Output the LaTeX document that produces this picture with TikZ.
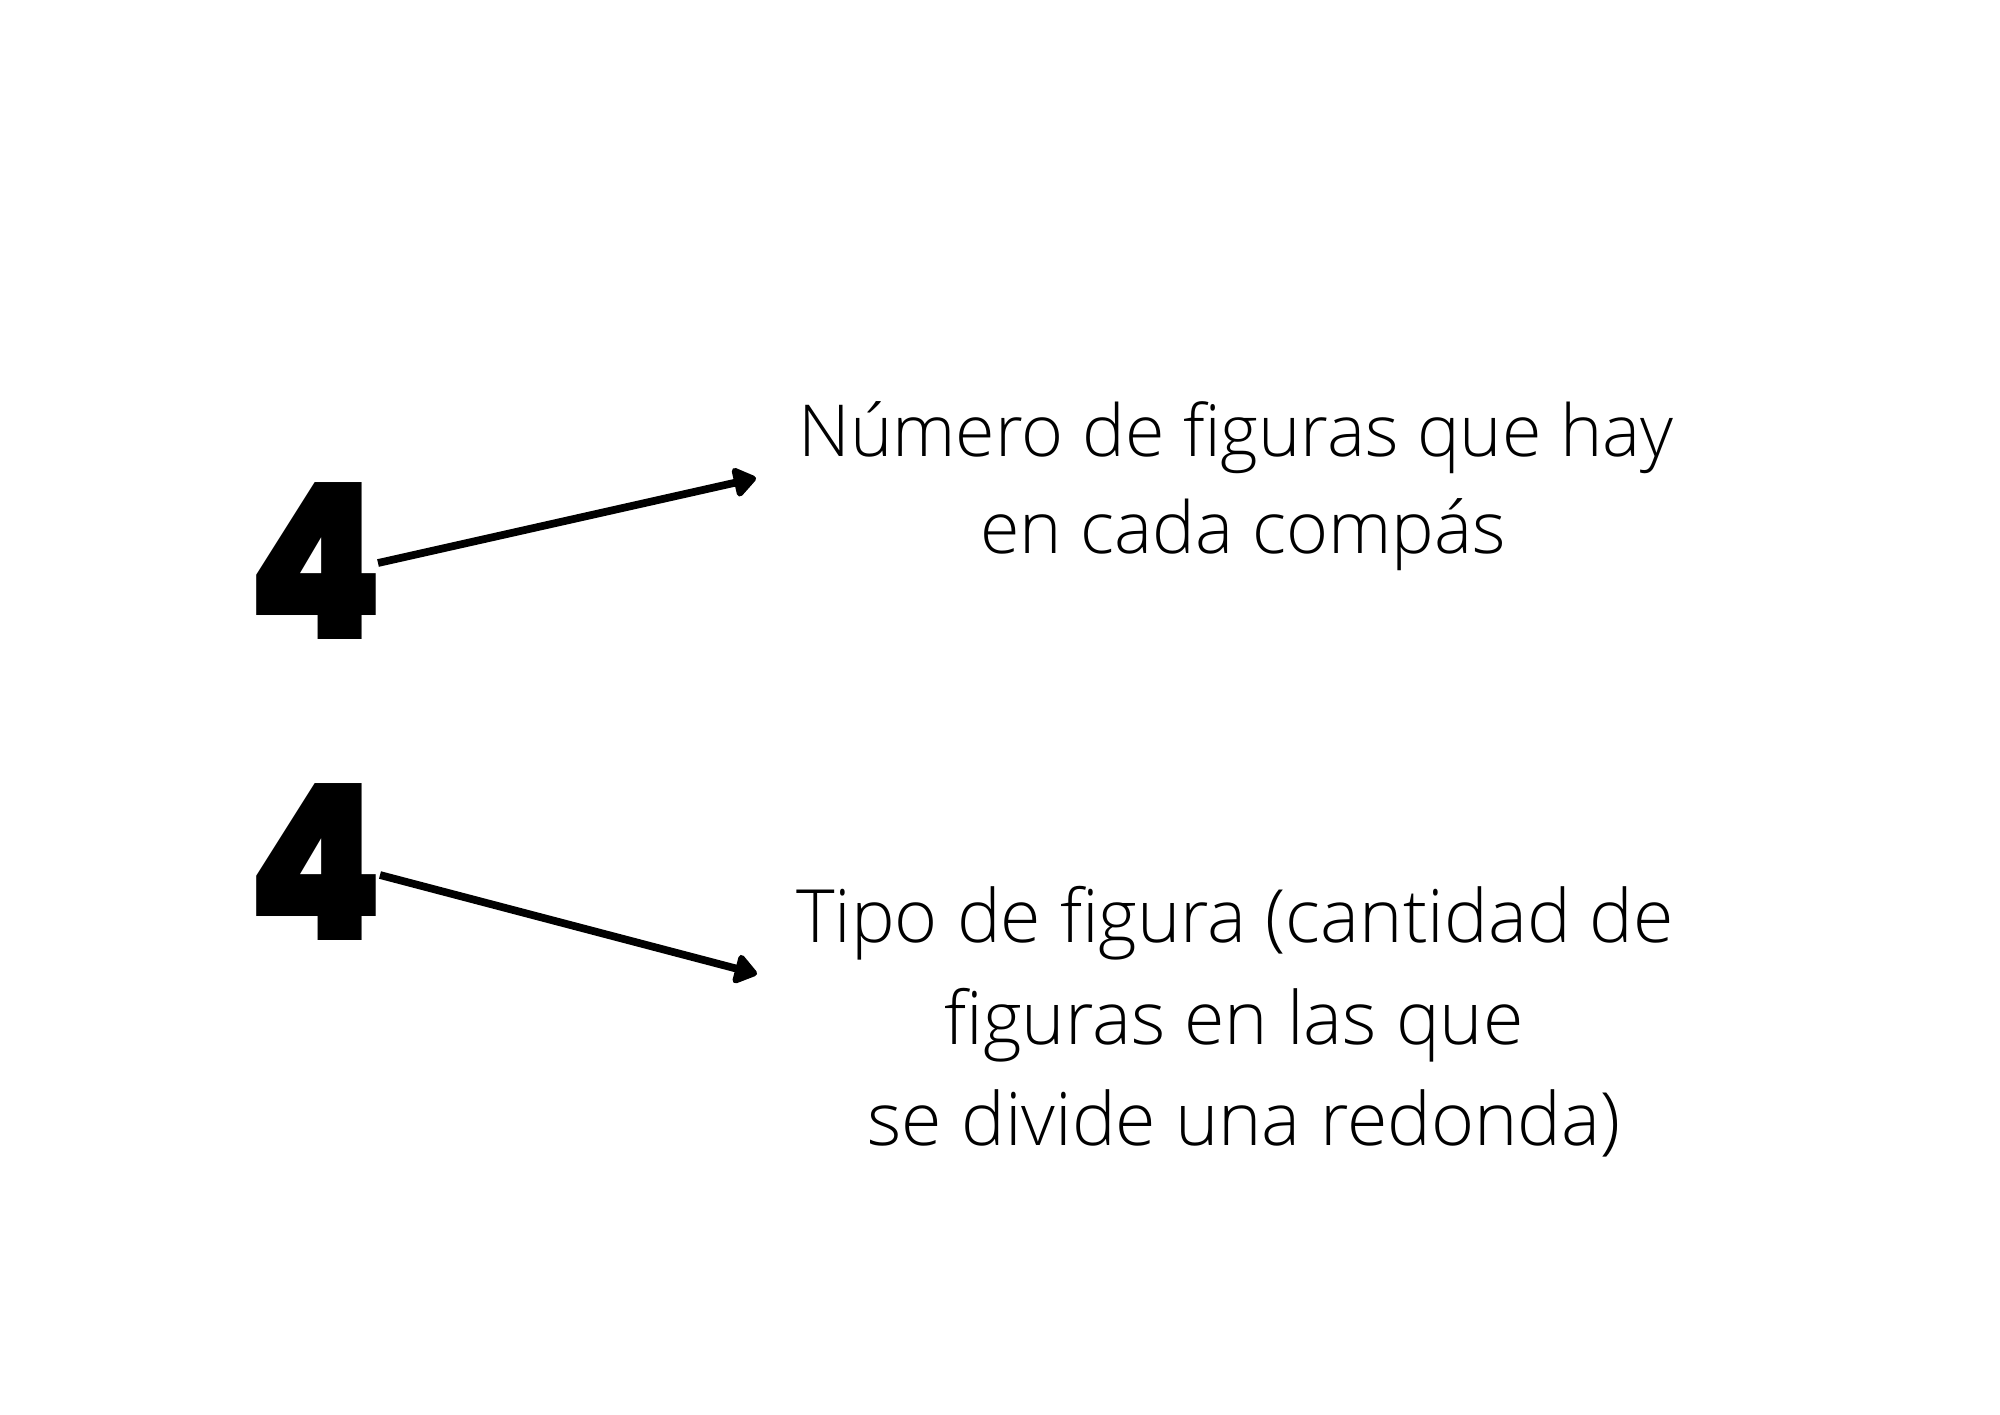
\documentclass[tikz,border=0pt]{standalone}
\usepackage{fontspec}
\setmainfont{Open Sans Light}
\newfontfamily\heavyfont{Poppins Black}
\usetikzlibrary{arrows.meta}
\begin{document}
\begin{tikzpicture}[x=0.01cm,y=0.01cm,
  label/.style={anchor=base,inner sep=0pt,font=\fontsize{20.4}{27.6}\selectfont},
  labelb/.style={anchor=base,inner sep=0pt,font=\fontsize{20.9}{29}\selectfont},
  digit/.style={anchor=base west,inner sep=0pt,font=\heavyfont\fontsize{62}{62}\selectfont},
  arr/.style={line width=2.2pt,-{Triangle[length=7pt,width=9.5pt,round]}}]
\fill[white] (0,0) rectangle (2000,-1414);
\useasboundingbox (0,0) rectangle (2000,-1414);
\node[digit] (four1) at (246,-639) {\scalebox{0.9}[1]{4}};
\node[digit] (four2) at (246,-940) {\scalebox{0.9}[1]{4}};
\node[label] (t1a) at (1236,-456) {Número de figuras que hay};
\node[label] (t1b) at (1243,-553) {en cada compás};
\node[labelb] (t2a) at (1235,-942) {Tipo de figura (cantidad de};
\node[labelb] (t2b) at (1234,-1044) {figuras en las que};
\node[labelb] (t2c) at (1244,-1145) {se divide una redonda)};
\coordinate (s1) at (378,-563);
\coordinate (e1) at (756,-478);
\coordinate (s2) at (380,-875);
\coordinate (e2) at (757,-974);
\draw[arr] (s1) -- (e1);
\draw[arr] (s2) -- (e2);
\end{tikzpicture}
\end{document}
